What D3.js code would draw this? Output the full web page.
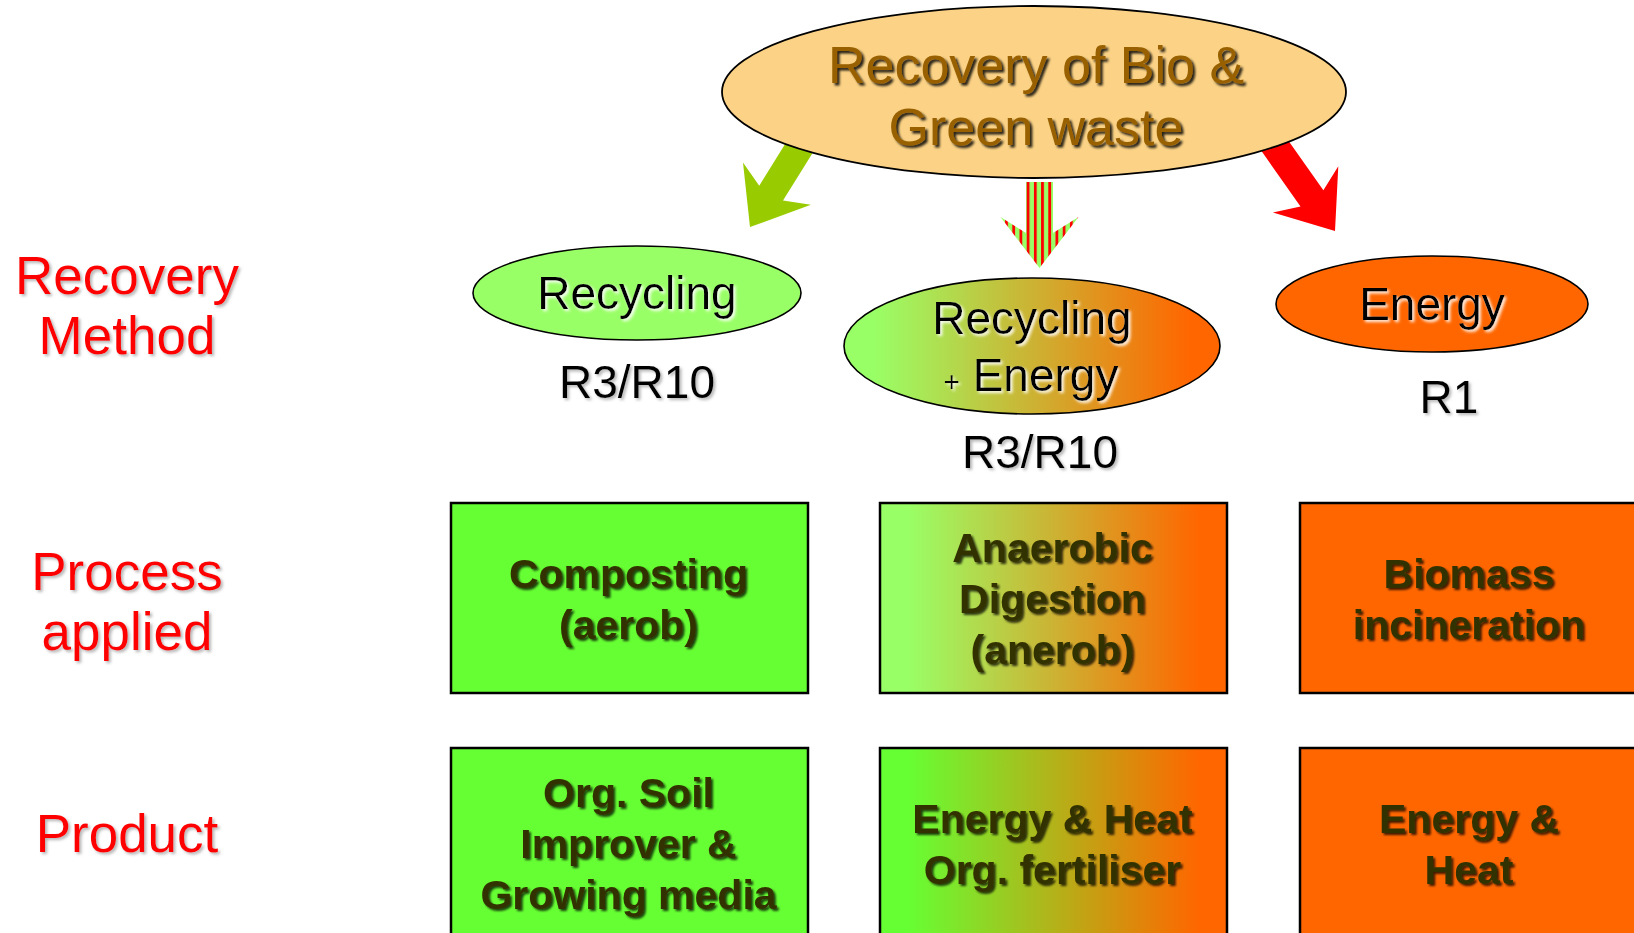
<!DOCTYPE html>
<html>
<head>
<meta charset="utf-8">
<script src="https://cdn.jsdelivr.net/npm/d3@7"></script>
<style>
  body { margin: 0; background: #fff; }
  svg { display: block; font-family: "Liberation Sans", Arial, sans-serif; }
</style>
</head>
<body>
<svg></svg>
<script>
// content
let title = ["Recovery of Bio &", "Green waste"]
let rows = ["method", "process", "product"]
let rowLabels = [["Recovery", "Method"], ["Process", "applied"], ["Product"]]
let columns = ["recycling", "both", "energy"]
let methods = [["Recycling"], ["Recycling", "Energy"], ["Energy"]]
let codes = ["R3/R10", "R3/R10", "R1"]
let processes = [["Composting", "(aerob)"], ["Anaerobic", "Digestion", "(anerob)"], ["Biomass", "incineration"]]
let products = [["Org. Soil", "Improver &", "Growing media"], ["Energy & Heat", "Org. fertiliser"], ["Energy &", "Heat"]]

let width = 1634
let height = 933

let svg = d3.select('svg').attr('width', width).attr('height', height)
let defs = svg.append('defs')

// layout scales
let boxX = d3.scaleOrdinal().domain(columns).range([451, 880, 1300])
let boxW = d3.scaleOrdinal().domain(columns).range([357, 347, 340])
let boxY = d3.scaleOrdinal().domain(["process", "product"]).range([503, 748])
let boxH = 190

let ellX = d3.scaleOrdinal().domain(columns).range([637, 1032, 1432])
let ellY = d3.scaleOrdinal().domain(columns).range([293, 346, 304])
let ellRx = d3.scaleOrdinal().domain(columns).range([164, 188, 156])
let ellRy = d3.scaleOrdinal().domain(columns).range([47, 68, 48])
let codeX = d3.scaleOrdinal().domain(columns).range([637, 1040, 1449])
let codeY = d3.scaleOrdinal().domain(columns).range([398, 468, 413])
let labelY = d3.scaleOrdinal().domain(rows).range([294, 590, 852])

let green = "#66ff33", lightGreen = "#99ff66", orange = "#ff6600"

// filters
let shadow = (id, color, dx, dy, blur, op) => {
  defs.append('filter').attr('id', id)
      .attr('x', '-20%').attr('y', '-30%').attr('width', '140%').attr('height', '170%')
      .append('feDropShadow')
      .attr('dx', dx).attr('dy', dy)
      .attr('stdDeviation', blur)
      .attr('flood-color', color)
      .attr('flood-opacity', op)
}
shadow('sh-title', '#000', 2.5, 2.5, 1, 0.85)
shadow('sh-white', '#fff', 2, 2, 1.5, 0.95)
shadow('sh-grey', '#777', 2, 2, 1.8, 0.55)
shadow('sh-box', '#000', 2, 2, 1, 0.75)

let grad = (id, from, to) => {
  let g = defs.append('linearGradient').attr('id', id)
  g.append('stop').attr('offset', '0%').attr('stop-color', from)
  g.append('stop').attr('offset', '8%').attr('stop-color', from)
  g.append('stop').attr('offset', '92%').attr('stop-color', to)
  g.append('stop').attr('offset', '100%').attr('stop-color', to)
}
grad('g-ell', lightGreen, orange)
grad('g-proc', lightGreen, orange)
grad('g-prod', green, orange)

let stripes = defs.append('pattern').attr('id', 'stripes')
    .attr('patternUnits', 'userSpaceOnUse')
    .attr('x', 1026.7).attr('y', 0).attr('width', 7.2).attr('height', 10)
stripes.append('rect').attr('width', 7.2).attr('height', 10).attr('fill', lightGreen)
stripes.append('rect').attr('width', 2.8).attr('height', 10).attr('fill', '#ff0000')

// arrows
let arrows = [
  {tail: [811, 129], tip: [750, 227], w: 14, hw: 40, hl: 40, notch: 11, fill: '#99cc00'},
  {tail: [1039.5, 182], tip: [1039.5, 268], w: 13.5, hw: 39, hl: 35, notch: 16, fill: 'url(#stripes)'},
  {tail: [1268, 136], tip: [1335, 231], w: 14, hw: 40, hl: 40, notch: 11, fill: '#ff0000'}
]

let arrowPoints = (a) => {
  let dx = a.tip[0] - a.tail[0], dy = a.tip[1] - a.tail[1]
  let L = Math.hypot(dx, dy)
  let ang = Math.atan2(dy, dx)
  let c = Math.cos(ang), s = Math.sin(ang)
  let pts = [[0, -a.w], [L - a.hl, -a.w], [L - a.hl - a.notch, -a.hw], [L, 0],
             [L - a.hl - a.notch, a.hw], [L - a.hl, a.w], [0, a.w]]
  return pts.map(p => [a.tail[0] + p[0] * c - p[1] * s, a.tail[1] + p[0] * s + p[1] * c])
}

svg.append('g').selectAll('path')
   .data(arrows)
   .enter()
   .append('path')
   .attr('d', (d) => d3.line()(arrowPoints(d)) + 'Z')
   .attr('fill', (d) => d.fill)

// top ellipse
svg.append('ellipse')
   .attr('cx', 1034).attr('cy', 92)
   .attr('rx', 312).attr('ry', 86)
   .attr('fill', '#fcd386')
   .attr('stroke', '#000').attr('stroke-width', 1.8)

let titleG = svg.append('g')
   .attr('text-anchor', 'middle')
   .attr('font-size', 52)
   .attr('fill', '#996100')
   .attr('filter', 'url(#sh-title)')
titleG.selectAll('text')
   .data(title)
   .enter()
   .append('text')
   .attr('x', 1036)
   .attr('y', (d, i) => 83 + i * 62)
   .text((d) => d)

// left row labels
let labelG = svg.append('g')
   .attr('text-anchor', 'middle')
   .attr('font-size', 53)
   .attr('fill', '#ff0000')
   .attr('filter', 'url(#sh-grey)')
rows.forEach((r, i) => {
  rowLabels[i].forEach((t, j) => {
    labelG.append('text')
          .attr('x', 127)
          .attr('y', labelY(r) + j * 60)
          .text(t)
  })
})

// method ellipses
let ellFill = [lightGreen, 'url(#g-ell)', orange]
svg.append('g').selectAll('ellipse')
   .data(columns)
   .enter()
   .append('ellipse')
   .attr('cx', (d) => ellX(d))
   .attr('cy', (d) => ellY(d))
   .attr('rx', (d) => ellRx(d))
   .attr('ry', (d) => ellRy(d))
   .attr('fill', (d, i) => ellFill[i])
   .attr('stroke', '#000').attr('stroke-width', 1.6)

let methodG = svg.append('g')
   .attr('text-anchor', 'middle')
   .attr('font-size', 46)
   .attr('fill', '#000')
   .attr('filter', 'url(#sh-white)')
columns.forEach((c, i) => {
  let lines = methods[i]
  let first = ellY(c) - (lines.length - 1) * 57 / 2 + 16
  lines.forEach((t, j) => {
    let txt = methodG.append('text')
        .attr('x', ellX(c) - (j > 0 ? 1 : 0))
        .attr('y', first + j * 57)
    if (j > 0) {
      txt.append('tspan').attr('font-size', 28).text('+')
      txt.append('tspan').text(' ' + t)
    } else {
      txt.text(t)
    }
  })
})

// codes
svg.append('g')
   .attr('text-anchor', 'middle')
   .attr('font-size', 46)
   .attr('fill', '#000')
   .attr('filter', 'url(#sh-grey)')
   .selectAll('text')
   .data(columns)
   .enter()
   .append('text')
   .attr('x', (d) => codeX(d))
   .attr('y', (d) => codeY(d))
   .text((d, i) => codes[i])

// boxes
let makeRow = (row, texts, fills, midY) => {
  let g = svg.append('g')
  g.selectAll('rect')
   .data(columns)
   .enter()
   .append('rect')
   .attr('x', (d) => boxX(d))
   .attr('y', boxY(row))
   .attr('width', (d) => boxW(d))
   .attr('height', boxH)
   .attr('fill', (d, i) => fills[i])
   .attr('stroke', '#000').attr('stroke-width', 2.5)

  let tg = g.append('g')
   .attr('text-anchor', 'middle')
   .attr('font-size', 41)
   .attr('font-weight', 'bold')
   .attr('fill', '#333300')
   .attr('filter', 'url(#sh-box)')
  columns.forEach((c, i) => {
    let lines = texts[i]
    let lh = 51
    let first = boxY(row) + midY - (lines.length - 1) * lh / 2 + 15
    lines.forEach((t, j) => {
      tg.append('text')
        .attr('x', boxX(c) + boxW(c) / 2 - 1)
        .attr('y', first + j * lh)
        .text(t)
    })
  })
}

makeRow('process', processes, [green, 'url(#g-proc)', orange], 95)
makeRow('product', products, [green, 'url(#g-prod)', orange], 95)
</script>
</body>
</html>
